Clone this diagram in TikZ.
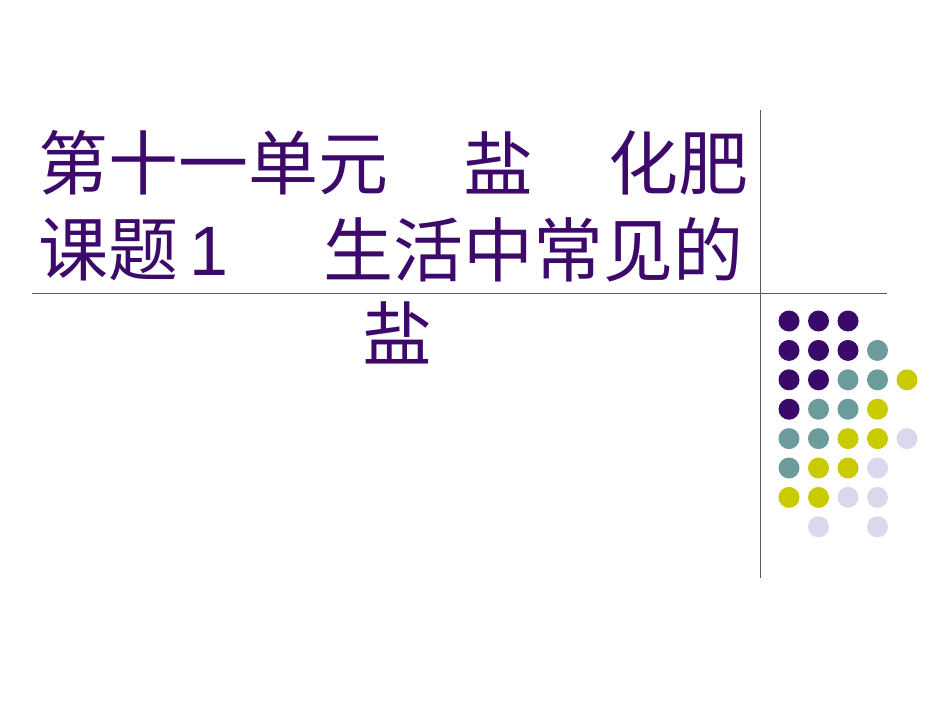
\documentclass[tikz,border=0pt]{standalone}
\usepackage{fontspec}
\newfontfamily\cjk{Noto Sans CJK SC}
\newfontfamily\lat{Liberation Sans}
\definecolor{tp}{HTML}{3D0A6B}
\definecolor{dp}{HTML}{3A0A6A}
\definecolor{dt}{HTML}{6B9B9B}
\definecolor{dy}{HTML}{C9CB00}
\definecolor{dl}{HTML}{DBD8EE}
\begin{document}
\begin{tikzpicture}[x=1pt,y=-1pt,
  ttl/.style={anchor=west,inner sep=0,text=tp,font=\cjk\fontsize{70}{70}\selectfont},
  dot/.style={circle,inner sep=0,minimum size=21pt}]
\useasboundingbox (0,0) rectangle (950,713);
\fill[white] (0,0) rectangle (950,713);
\draw[gray!70!black,line width=0.8pt] (760,110) -- (760,578);
\draw[gray!70!black,line width=0.8pt] (32,293) -- (887,293);
\node[ttl] (t1) at (38,163) {第十一单元};
\node[ttl] (t2) at (463,163) {盐};
\node[ttl] (t3) at (608,163) {化肥};
\node[ttl] (t4) at (38,250) {课题\,{\lat 1}};
\node[ttl] (t5) at (323,250) {生活中常见的};
\node[ttl] (t6) at (362,333) {盐};
\foreach \c/\r/\col in {1/1/dp,2/1/dp,3/1/dp,
 1/2/dp,2/2/dp,3/2/dp,4/2/dt,
 1/3/dp,2/3/dp,3/3/dt,4/3/dt,5/3/dy,
 1/4/dp,2/4/dt,3/4/dt,4/4/dy,
 1/5/dt,2/5/dt,3/5/dy,4/5/dy,5/5/dl,
 1/6/dt,2/6/dy,3/6/dy,4/6/dl,
 1/7/dy,2/7/dy,3/7/dl,4/7/dl,
 2/8/dl,4/8/dl}
 \node[dot,fill=\col] (d\c\r) at ({789+29.5*(\c-1)},{321+29.4*(\r-1)}) {};
\end{tikzpicture}
\end{document}
